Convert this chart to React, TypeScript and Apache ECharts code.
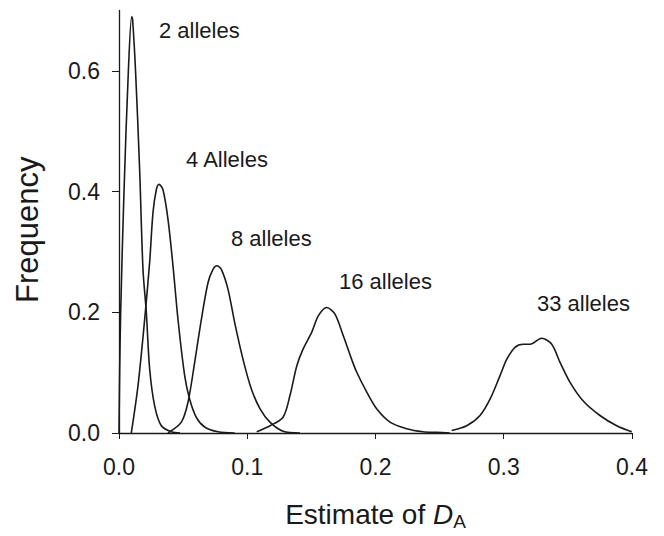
import React, { useEffect, useRef } from "react";
import * as echarts from "echarts";

// Estimate of D_A (x) and frequency (y) for each curve
const allele2X = [0, 0.0005, 0.0013, 0.0039, 0.0073, 0.0099, 0.0106, 0.0129, 0.0161, 0.0187, 0.0213, 0.0239, 0.0278, 0.033, 0.0408, 0.0476];
const allele2Y = [0.0, 0.1, 0.2, 0.4, 0.6, 0.69, 0.685, 0.6, 0.436, 0.271, 0.2, 0.106, 0.045, 0.012, 0.002, 0.0];

const allele4X = [0.0096, 0.0148, 0.02, 0.0239, 0.0265, 0.0291, 0.0312, 0.0343, 0.0382, 0.0421, 0.046, 0.0512, 0.0551, 0.0603, 0.0668, 0.0772, 0.0902];
const allele4Y = [0.0, 0.078, 0.188, 0.283, 0.365, 0.403, 0.412, 0.403, 0.354, 0.277, 0.188, 0.095, 0.056, 0.026, 0.01, 0.002, 0.0];

const allele8X = [0.0382, 0.0486, 0.0538, 0.059, 0.0642, 0.0694, 0.0733, 0.0764, 0.0798, 0.085, 0.0902, 0.0967, 0.1032, 0.11, 0.1177, 0.1279, 0.1411];
const allele8Y = [0.0, 0.018, 0.051, 0.117, 0.188, 0.249, 0.271, 0.277, 0.271, 0.238, 0.183, 0.122, 0.073, 0.04, 0.018, 0.003, 0.0];

const allele16X = [0.1074, 0.1177, 0.1279, 0.1333, 0.1386, 0.1435, 0.1503, 0.1554, 0.162, 0.1684, 0.1749, 0.1814, 0.1853, 0.1931, 0.2009, 0.2113, 0.2243, 0.237, 0.2477, 0.258];
const allele16Y = [0.002, 0.012, 0.026, 0.062, 0.111, 0.139, 0.167, 0.194, 0.208, 0.197, 0.161, 0.122, 0.101, 0.068, 0.04, 0.018, 0.007, 0.002, 0.001, 0.0];

const allele33X = [0.2594, 0.2711, 0.2815, 0.2893, 0.2971, 0.3023, 0.3088, 0.3152, 0.3205, 0.3296, 0.3374, 0.3439, 0.3517, 0.362, 0.375, 0.3881, 0.3998];
const allele33Y = [0.004, 0.012, 0.029, 0.056, 0.095, 0.122, 0.142, 0.147, 0.147, 0.157, 0.147, 0.117, 0.084, 0.053, 0.029, 0.012, 0.002];

const curveNames = ["2 alleles", "4 Alleles", "8 alleles", "16 alleles", "33 alleles"];
const curveXs = [allele2X, allele4X, allele8X, allele16X, allele33X];
const curveYs = [allele2Y, allele4Y, allele8Y, allele16Y, allele33Y];

const xTicks = [0, 0.1, 0.2, 0.3, 0.4];
const yTicks = [0, 0.2, 0.4, 0.6];

// label anchor positions in pixels (styling)
const labelPos = [
  [159, 30],
  [186, 159],
  [231, 238],
  [339, 281],
  [537, 303],
];

const FONT = "'Liberation Sans', Arial, Helvetica, sans-serif";
const INK = "#1a1a1a";

export default function App() {
  const ref = useRef<HTMLDivElement>(null);
  useEffect(() => {
    if (!ref.current) return;
    const chart = echarts.init(ref.current, undefined, { renderer: "svg" });
    const series = curveNames.map((name, i) => ({
      name,
      type: "line",
      data: curveXs[i].map((x, j) => [x, curveYs[i][j]]),
      showSymbol: false,
      smooth: 0.3,
      lineStyle: { color: INK, width: 1.6 },
      itemStyle: { color: INK },
      z: 3,
    }));
    chart.setOption({
      animation: false,
      backgroundColor: "#ffffff",
      grid: { left: 119, right: 32, top: 10.5, bottom: 102, containLabel: false },
      xAxis: {
        type: "value",
        min: 0,
        max: 0.4,
        interval: 0.1,
        splitLine: { show: false },
        axisLine: { lineStyle: { color: INK, width: 1.3 } },
        axisTick: { show: true, length: 6, lineStyle: { color: INK }, customValues: xTicks },
        axisLabel: {
          customValues: xTicks,
          formatter: (v: number) => v.toFixed(1),
          color: INK,
          fontSize: 23,
          fontFamily: FONT,
          margin: 22,
        },
        name: "{t|Estimate of }{d|D}{s|A}",
        nameLocation: "middle",
        nameGap: 65,
        nameTextStyle: {
          rich: {
            t: { fontSize: 28, fontFamily: FONT, color: INK },
            d: { fontSize: 28, fontFamily: FONT, fontStyle: "italic", color: INK },
            s: { fontSize: 19, fontFamily: FONT, color: INK, padding: [14, 0, 0, 0] },
          },
        },
      },
      yAxis: {
        type: "value",
        min: 0,
        max: 0.7,
        interval: 0.2,
        splitLine: { show: false },
        axisLine: { show: true, lineStyle: { color: INK, width: 1.3 } },
        axisTick: { show: true, length: 7, lineStyle: { color: INK }, customValues: yTicks },
        axisLabel: {
          customValues: yTicks,
          formatter: (v: number) => v.toFixed(1),
          color: INK,
          fontSize: 23,
          fontFamily: FONT,
          margin: 19,
        },
        name: "Frequency",
        nameLocation: "middle",
        nameGap: 76,
        nameTextStyle: { fontSize: 31, fontFamily: FONT, color: INK, padding: [0, 16, 0, 0] },
      },
      graphic: curveNames.map((name, i) => ({
        type: "text",
        x: labelPos[i][0],
        y: labelPos[i][1],
        style: {
          text: name,
          fontSize: 22,
          fontFamily: FONT,
          fill: INK,
          verticalAlign: "middle",
          align: "left",
        },
      })),
      series,
    });
    return () => chart.dispose();
  }, []);
  return (
    <div
      ref={ref}
      style={{ position: "fixed", left: 0, top: 0, width: 664, height: 536, background: "#fff" }}
    />
  );
}
